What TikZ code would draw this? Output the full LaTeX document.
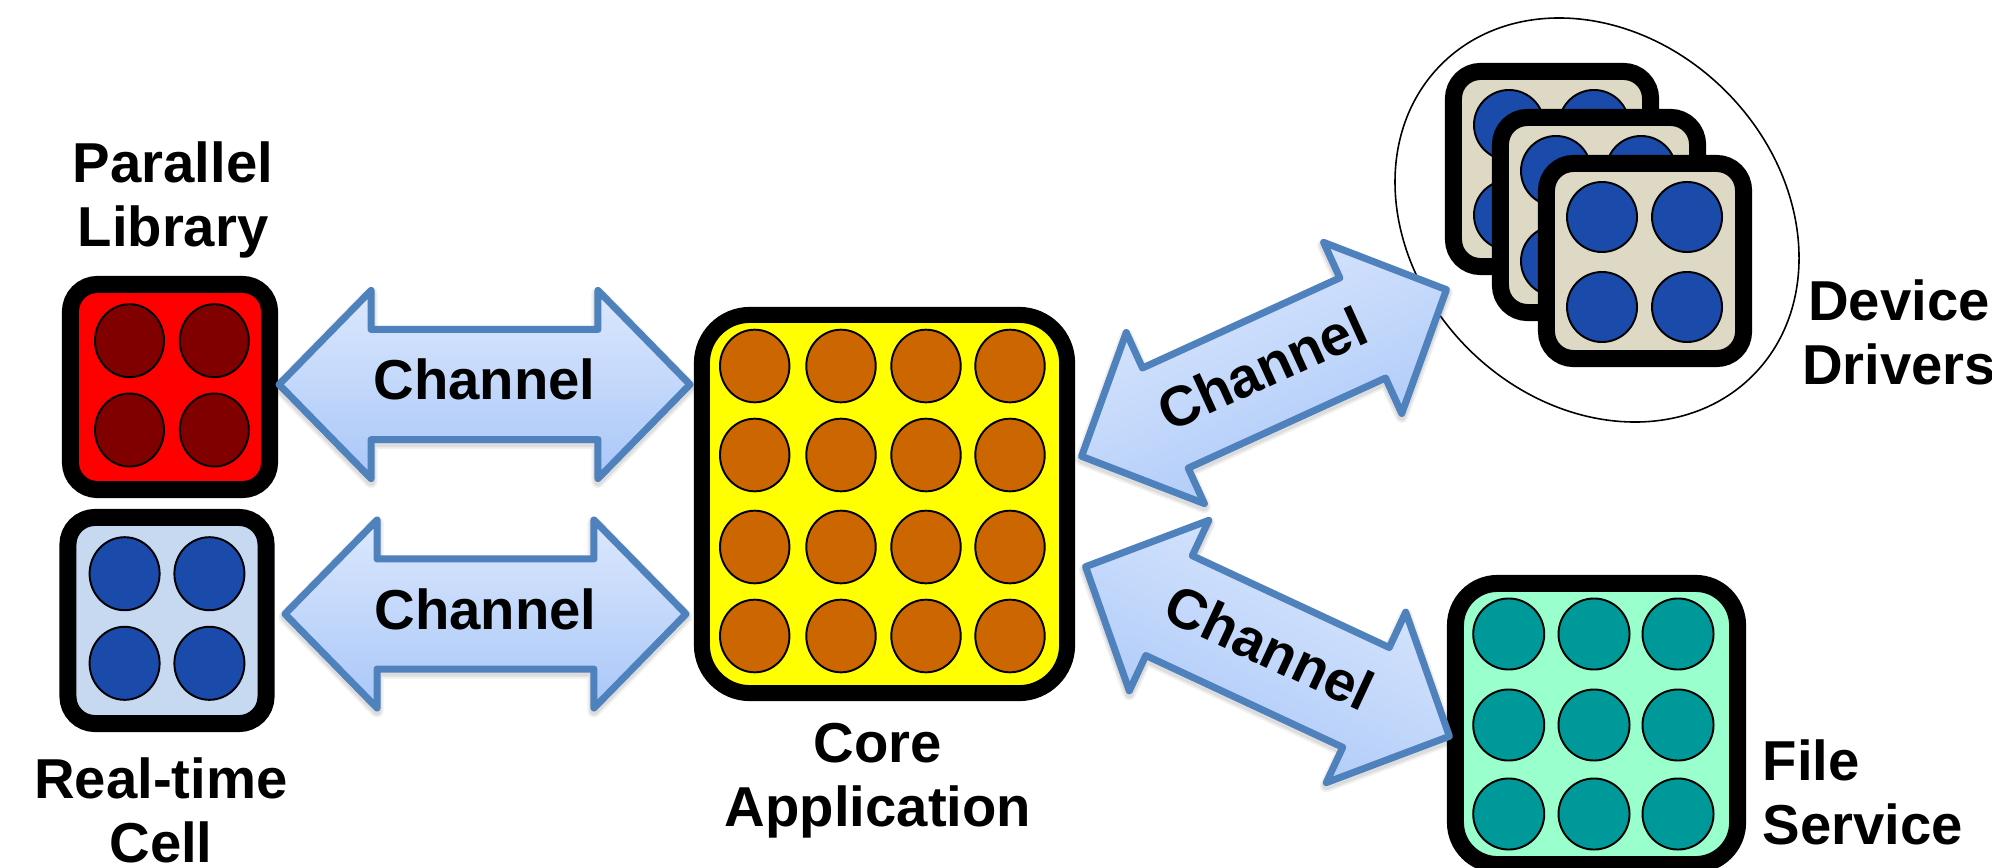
\documentclass[tikz,border=0pt]{standalone}
\usepackage{fontspec}
\setmainfont{Liberation Sans}
\usetikzlibrary{calc}

\definecolor{chanline}{HTML}{4F81BD}
\definecolor{chantop}{HTML}{DCE8FD}
\definecolor{chanbot}{HTML}{A9C7F8}
\definecolor{plfill}{HTML}{FF0000}
\definecolor{plcore}{HTML}{800000}
\definecolor{rtfill}{HTML}{C6D9F1}
\definecolor{bluecore}{HTML}{1A4AAA}
\definecolor{appfill}{HTML}{FFFF00}
\definecolor{appcore}{HTML}{CC6600}
\definecolor{devfill}{HTML}{DDD9C4}
\definecolor{fsfill}{HTML}{99FFCC}
\definecolor{fscore}{HTML}{009999}

\tikzset{
  unit/.style={draw=black, line width=0.17cm, rounded corners=0.27cm, inner sep=0pt, outer sep=0pt},
  pe/.style={draw=black, line width=0.55pt},
  lab/.style={font=\fontsize{16}{18.2}\selectfont\bfseries, inner sep=0pt, align=center},
  chanbody/.style={draw=chanline, line width=0.07cm, line join=round,
    top color=chantop, bottom color=chanbot},
  chanshade/.style={transform canvas={yshift=-0.03cm}, draw=black, line join=round},
}

% outline of a block arrow between tips #1 and #2 (#3a, #3b are the head bases)
\newcommand\chanpoly[3]{(#1)
    -- ($(#3a)!0.94cm!90:(#2)$) -- ($(#3a)!0.55cm!90:(#2)$)
    -- ($(#3b)!0.55cm!-90:(#1)$) -- ($(#3b)!0.94cm!-90:(#1)$)
    -- (#2)
    -- ($(#3b)!0.94cm!90:(#1)$) -- ($(#3b)!0.55cm!90:(#1)$)
    -- ($(#3a)!0.55cm!-90:(#2)$) -- ($(#3a)!0.94cm!-90:(#2)$) -- cycle}

% "Channel" block arrow between two tip coordinates; #3 is a name prefix
\newcommand\chanarrow[3]{%
  \pgfmathanglebetweenpoints{\pgfpointanchor{#1}{center}}{\pgfpointanchor{#2}{center}}%
  \pgfmathsetmacro\chanang{\pgfmathresult}%
  \pgfmathsetmacro\chanperp{\chanang+90}%
  \coordinate (#3a) at ($(#1)!0.92cm!(#2)$);
  \coordinate (#3b) at ($(#2)!0.92cm!(#1)$);
  \path[chanshade, draw opacity=0.06, line width=0.13cm] \chanpoly{#1}{#2}{#3};
  \path[chanshade, draw opacity=0.08, line width=0.09cm] \chanpoly{#1}{#2}{#3};
  \path[chanbody, shading angle=\chanang] \chanpoly{#1}{#2}{#3};
  \node[lab, rotate=\chanang] (#3t) at ($($(#1)!0.5!(#2)$)+(\chanperp:0.05cm)$) {Channel};
}

\begin{document}
\begin{tikzpicture}[x=0.01cm, y=-0.01cm]
\useasboundingbox (0,0) rectangle (1992,867);
\clip (0,0) rectangle (1992,867);

% ---- Parallel Library
\node[unit, fill=plfill, minimum width=1.99cm, minimum height=2.05cm] (pl) at (170,387) {};
\foreach \cx in {129.5,214.3} \foreach \cy in {340.7,430}
  \draw[pe, fill=plcore] (\cx,\cy) ellipse [x radius=0.345cm, y radius=0.365cm];
\node[lab, anchor=north] (pltxt) at (173,141) {Parallel\\Library};

% ---- Real-time Cell
\node[unit, fill=rtfill, minimum width=1.98cm, minimum height=2.06cm] (rt) at (167,620.5) {};
\foreach \cx in {124.6,209.4} \foreach \cy in {573.7,663.3}
  \draw[pe, fill=bluecore] (\cx,\cy) ellipse [x radius=0.35cm, y radius=0.365cm];
\node[lab, anchor=north] (rttxt) at (161,757) {Real-time\\Cell};

% ---- Core Application
\node[unit, line width=0.16cm, rounded corners=0.48cm, fill=appfill,
      minimum width=3.65cm, minimum height=3.78cm] (app) at (884.5,504) {};
\foreach \cx in {754.7,841,926,1010} \foreach \cy in {366,455,547,636}
  \draw[pe, fill=appcore] (\cx,\cy) ellipse [x radius=0.347cm, y radius=0.363cm];
\node[lab, anchor=north] (apptxt) at (878,722) {Core\\Application};

% ---- Device Drivers: a group of three units
\begin{scope}[shift={(1597,220)}, rotate=-45]
  \draw[black, line width=0.45pt] (0,0) ellipse [x radius=2.2cm, y radius=1.82cm];
\end{scope}
\foreach \nm/\px/\py in {dda/1552/169, ddb/1599/215, ddc/1645/261}{
  \node[unit, fill=devfill, minimum width=1.97cm, minimum height=1.95cm] (\nm) at (\px,\py) {};
  \foreach \dx in {-43,42} \foreach \dy in {-44,46}
    \draw[pe, fill=bluecore] ($(\nm)+(\dx,\dy)$) ellipse [x radius=0.35cm, y radius=0.35cm];
}
\node[lab, anchor=north] (ddtxt) at (1899,279) {Device\\Drivers};

% ---- File Service
\node[unit, rounded corners=0.42cm, fill=fsfill, minimum width=2.82cm, minimum height=2.81cm] (fs) at (1596.5,724) {};
\foreach \cx in {1508.7,1594,1678} \foreach \cy in {634,725,814}
  \draw[pe, fill=fscore] (\cx,\cy) ellipse [x radius=0.355cm, y radius=0.355cm];
\node[lab, anchor=north west, align=left] (fstxt) at (1762,739) {File\\Service};

% ---- channels
\coordinate (c1l) at (279,384.5);   \coordinate (c1r) at (690,384.5);
\coordinate (c2l) at (285,614);     \coordinate (c2r) at (686,614);
\coordinate (c3l) at (1081.6,456.3); \coordinate (c3r) at (1446.4,289.7);
\coordinate (c4l) at (1085.6,566.7); \coordinate (c4r) at (1449.4,736.3);
\chanarrow{c1l}{c1r}{ch1}
\chanarrow{c2l}{c2r}{ch2}
\chanarrow{c3l}{c3r}{ch3}
\chanarrow{c4l}{c4r}{ch4}
\end{tikzpicture}
\end{document}
